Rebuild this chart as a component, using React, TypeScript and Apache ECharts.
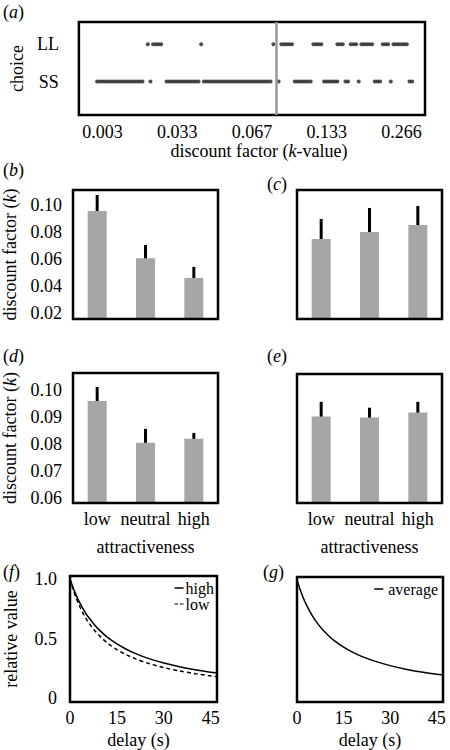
import React, { useEffect, useRef } from 'react';
import * as echarts from 'echarts';

const FONT = 'Liberation Serif, Times New Roman, serif';

// ---- panel (a): choices by k-value level ----
const kTickPos = [0, 28, 56, 84, 112];
const kTickLabels = ['0.003', '0.033', '0.067', '0.133', '0.266'];
const choiceRows = ['SS', 'LL'];
const ssTrials = [
  -2, -1, 0, 1, 2, 3, 4, 5, 6, 7, 8, 9, 10, 11, 12, 13, 14, 15,
  18,
  24, 25, 26, 27, 28, 29, 30, 31, 32, 33, 34, 35, 36,
  38, 39, 40, 41, 42, 43, 44, 45, 46, 47, 48, 49, 50, 51, 52, 53, 54, 55, 56, 57, 58, 59, 60, 61, 62, 63,
  66,
  72, 73, 74, 75, 76, 77, 78,
  83, 84, 85, 86, 87, 88,
  91, 92,
  96,
  102, 103, 104,
  108,
  115, 116,
];
const llTrials = [
  17,
  19, 20, 21, 22,
  37,
  64,
  67, 68, 69, 70, 71,
  79, 80, 81, 82,
  88, 89, 90,
  93, 94, 95,
  97, 98, 99, 100, 101,
  105, 106, 107,
  109, 110, 111, 112, 113, 114,
];
const switchPoint = 65.2;

// ---- panels (b)-(e): discount factor by attractiveness ----
const attractCats = ['low', 'neutral', 'high'];
const bMeans = [0.0956, 0.0605, 0.046];
const bLow = [0.0815, 0.0496, 0.038];
const bHigh = [0.1074, 0.0704, 0.0542];
const cMeans = [0.0748, 0.08, 0.0852];
const cLow = [0.0607, 0.0615, 0.0733];
const cHigh = [0.0896, 0.0978, 0.0993];
const dMeans = [0.0959, 0.0804, 0.0819];
const dLow = [0.0922, 0.0756, 0.0793];
const dHigh = [0.1011, 0.0856, 0.0841];
const eMeans = [0.0904, 0.09, 0.0919];
const eLow = [0.0841, 0.0863, 0.0878];
const eHigh = [0.0959, 0.0937, 0.0959];
const kTicksBC = [0.02, 0.04, 0.06, 0.08, 0.1];
const kTicksDE = [0.06, 0.07, 0.08, 0.09, 0.1];

// ---- panels (f)-(g): discounting curves ----
const delays = [0, 1, 2, 3, 4, 5, 6, 8, 10, 12, 15, 18, 21, 25, 30, 35, 40, 45, 47];
const valueHigh = [1, 0.926, 0.862, 0.806, 0.758, 0.714, 0.676, 0.61, 0.556, 0.51, 0.455, 0.41, 0.373, 0.333, 0.294, 0.263, 0.238, 0.217, 0.21];
const valueLow = [1, 0.912, 0.838, 0.775, 0.72, 0.673, 0.632, 0.563, 0.508, 0.462, 0.407, 0.364, 0.329, 0.292, 0.256, 0.228, 0.205, 0.186, 0.18];
const valueAverage = [1, 0.919, 0.85, 0.791, 0.74, 0.694, 0.654, 0.587, 0.532, 0.486, 0.431, 0.387, 0.351, 0.313, 0.275, 0.245, 0.221, 0.202, 0.195];
const delayTicks = [0, 15, 30, 45];
const valueTicks = [0, 0.5, 1];

const txt = { fontFamily: FONT, fontSize: 18, fontWeight: 'normal', color: '#000' };
const italic = { ...txt, fontStyle: 'italic' };
const noParts = { axisLine: { show: false }, axisTick: { show: false }, splitLine: { show: false } };

const panelLetters = ['a', 'b', 'c', 'd', 'e', 'f', 'g'];
const letterPos = [
  [3, 3], [3, 161], [267, 175], [3, 347], [267, 347], [3, 563], [263, 563],
];

const DASH_ICON = 'path://M0,0h4v1h-4z M6,0h4v1h-4z';

export default function App() {
  const ref = useRef<HTMLDivElement>(null);

  useEffect(() => {
    if (!ref.current) return;
    const chart = echarts.init(ref.current, null, { renderer: 'svg' });

    const grids = [
      { left: 73, top: 22, width: 352, height: 93 },
      { left: 73, top: 190, width: 145, height: 129 },
      { left: 297, top: 190, width: 145, height: 129 },
      { left: 73, top: 373, width: 145, height: 130 },
      { left: 297, top: 374, width: 145, height: 129 },
      { left: 70, top: 576, width: 147, height: 127 },
      { left: 297, top: 577, width: 146, height: 126 },
    ].map((g) => ({ ...g, show: true, z: 5, borderColor: '#000', borderWidth: 2.5, backgroundColor: 'transparent' }));

    const barPanels = [
      { g: 1, means: bMeans, lo: bLow, hi: bHigh, min: 0.0156, max: 0.1111, ticks: kTicksBC, showY: true, showX: false },
      { g: 2, means: cMeans, lo: cLow, hi: cHigh, min: 0.0156, max: 0.1111, ticks: kTicksBC, showY: false, showX: false },
      { g: 3, means: dMeans, lo: dLow, hi: dHigh, min: 0.0581, max: 0.1063, ticks: kTicksDE, showY: true, showX: true },
      { g: 4, means: eMeans, lo: eLow, hi: eHigh, min: 0.0581, max: 0.1063, ticks: kTicksDE, showY: false, showX: true },
    ];

    const xAxis: any[] = [
      {
        type: 'value', gridIndex: 0, min: -8.8, max: 120.8, ...noParts,
        axisLabel: {
          ...txt, margin: 8, customValues: kTickPos,
          formatter: (v: number) => kTickLabels[kTickPos.indexOf(v)] ?? '',
        },
        name: 'discount factor ({i|k}-value)', nameLocation: 'middle', nameGap: 26,
        nameTextStyle: { ...txt, padding: [0, 0, 0, 14], rich: { i: italic } },
      },
      ...barPanels.map((p) => ({
        type: 'category', gridIndex: p.g, data: attractCats, ...noParts,
        axisLabel: { ...txt, show: p.showX, margin: 7, interval: 0 },
        name: p.showX ? 'attractiveness' : '', nameLocation: 'middle', nameGap: 35,
        nameTextStyle: txt,
      })),
      ...[5, 6].map((g) => ({
        type: 'value', gridIndex: g, min: 0, max: 47, ...noParts,
        axisLabel: { ...txt, margin: 7, customValues: delayTicks, formatter: (v: number) => String(v) },
        name: 'delay (s)', nameLocation: 'middle', nameGap: 29,
        nameTextStyle: { ...txt, padding: g === 5 ? [0, 10, 0, 0] : 0 },
      })),
    ];

    const yAxis: any[] = [
      {
        type: 'value', gridIndex: 0, min: 0.1, max: 2.6, ...noParts,
        axisLabel: { ...txt, margin: 20, customValues: [1, 2], formatter: (v: number) => choiceRows[v - 1] ?? '' },
        name: 'choice', nameLocation: 'middle', nameGap: 52, nameTextStyle: txt,
      },
      ...barPanels.map((p) => ({
        type: 'value', gridIndex: p.g, min: p.min, max: p.max, ...noParts,
        axisLabel: { ...txt, show: p.showY, margin: 11, customValues: p.ticks, formatter: (v: number) => v.toFixed(2) },
        name: p.showY ? 'discount factor ({i|k})' : '', nameLocation: 'middle', nameGap: 54,
        nameTextStyle: { ...txt, rich: { i: italic } },
      })),
      ...[5, 6].map((g) => ({
        type: 'value', gridIndex: g, min: -0.033, max: 1.025, ...noParts,
        axisLabel: {
          ...txt, show: g === 5, margin: 13, customValues: valueTicks,
          formatter: (v: number) => (v === 0 ? '0' : v.toFixed(1)),
        },
        name: g === 5 ? 'relative value' : '', nameLocation: 'middle', nameGap: 50, nameTextStyle: txt,
      })),
    ];

    const series: any[] = [
      {
        type: 'scatter', xAxisIndex: 0, yAxisIndex: 0, symbolSize: 4,
        itemStyle: { color: '#222' },
        data: ssTrials.map((u) => [u, 1]),
        markLine: {
          silent: true, symbol: 'none', label: { show: false },
          lineStyle: { color: '#9a9a9a', width: 2.5, type: 'solid' },
          data: [{ xAxis: switchPoint }],
        },
      },
      {
        type: 'scatter', xAxisIndex: 0, yAxisIndex: 0, symbolSize: 4,
        itemStyle: { color: '#222' },
        data: llTrials.map((u) => [u, 2]),
      },
    ];

    barPanels.forEach((p) => {
      series.push({
        type: 'bar', xAxisIndex: p.g, yAxisIndex: p.g, barWidth: 19,
        itemStyle: { color: '#a6a6a6' }, data: p.means,
      });
      series.push({
        type: 'custom', xAxisIndex: p.g, yAxisIndex: p.g,
        encode: { x: 0, y: [1, 2] },
        data: p.lo.map((l, i) => [i, l, p.hi[i]]),
        renderItem: (_params: any, api: any) => {
          const x = api.value(0);
          const a = api.coord([x, api.value(1)]);
          const b = api.coord([x, api.value(2)]);
          return {
            type: 'line',
            shape: { x1: a[0], y1: a[1], x2: b[0], y2: b[1] },
            style: { stroke: '#000', lineWidth: 3 },
          };
        },
      });
    });

    const curve = (name: string, g: number, vals: number[], dashed: boolean) => ({
      name, type: 'line', xAxisIndex: g, yAxisIndex: g, symbol: 'none', showSymbol: false,
      smooth: 0.3,
      lineStyle: { color: '#000', width: 1.5, type: dashed ? [4, 3] : 'solid' },
      itemStyle: { color: '#000' },
      data: delays.map((d, i) => [d, vals[i]]),
    });
    series.push(curve('high', 5, valueHigh, false));
    series.push(curve('low', 5, valueLow, true));
    series.push(curve('average', 6, valueAverage, false));

    const option: any = {
      animation: false,
      backgroundColor: '#fff',
      title: panelLetters.map((l, i) => ({
        text: `{p|(}{i|${l}}{p|)}`,
        left: letterPos[i][0], top: letterPos[i][1], padding: 0,
        textStyle: { ...txt, rich: { p: txt, i: italic } },
      })),
      grid: grids,
      xAxis,
      yAxis,
      legend: [
        {
          data: [{ name: 'high', icon: 'rect' }, { name: 'low', icon: DASH_ICON }],
          orient: 'vertical', right: 236, top: 580, padding: 0,
          itemGap: 0, itemWidth: 9, itemHeight: 1.5, selectedMode: false,
          textStyle: { ...txt, fontSize: 16, lineHeight: 15, padding: [0, 0, 0, -3] },
        },
        {
          data: [{ name: 'average', icon: 'rect' }],
          orient: 'vertical', right: 12, top: 581, padding: 0,
          itemGap: 0, itemWidth: 9, itemHeight: 1.5, selectedMode: false,
          textStyle: { ...txt, fontSize: 16 },
        },
      ],
      series,
    };

    chart.setOption(option);
    return () => chart.dispose();
  }, []);

  return (
    <div
      ref={ref}
      style={{ position: 'absolute', left: 0, top: 0, width: 450, height: 750, background: '#fff' }}
    />
  );
}
